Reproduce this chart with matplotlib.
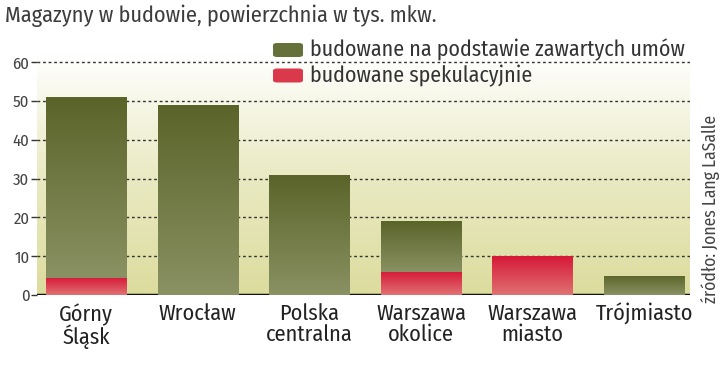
import matplotlib
matplotlib.use("Agg")
import matplotlib.pyplot as plt
import numpy as np
from matplotlib.colors import LinearSegmentedColormap
from matplotlib.patches import FancyBboxPatch
from matplotlib import font_manager

names = {f.name for f in font_manager.fontManager.ttflist}
def pick(cands):
    for c in cands:
        if c in names:
            return c
    return "DejaVu Sans"
FONT = pick(["Fira Sans Condensed", "Roboto Condensed", "Archivo Narrow", "Asap Condensed"])
LIGHT = pick(["Fira Sans Condensed", "Roboto Condensed", "Asap Condensed", "Archivo Narrow"])
plt.rcParams['font.family'] = [FONT, 'DejaVu Sans']

categories = ["Górny\nŚląsk", "Wrocław", "Polska\ncentralna", "Warszawa\nokolice", "Warszawa\nmiasto", "Trójmiasto"]
speculative = [4.5, 0, 0, 6, 10, 0]
contracted = [46.5, 49, 31, 13, 0, 5]
yticks = [0, 10, 20, 30, 40, 50, 60]
title = "Magazyny w budowie, powierzchnia w tys. mkw."
legend_labels = ["budowane na podstawie zawartych umów", "budowane spekulacyjnie"]
source = "źródło: Jones Lang LaSalle"

fig = plt.figure(figsize=(7.2, 3.66), dpi=100)
ax = fig.add_axes([37/720, 1-295/366, 653/720, 240.6/366])
ax.set_xlim(-0.44, 5.41)
ax.set_ylim(0, 62)

bg = LinearSegmentedColormap.from_list("bg", ["#dcdc9e", "#eaeac4", "#ffffff"])
grad = np.linspace(0, 1, 256).reshape(-1, 1)
ax.imshow(grad, cmap=bg, origin="lower", aspect="auto",
          extent=[-0.44, 5.41, 0, 62], zorder=0)

green_cm = LinearSegmentedColormap.from_list("g", ["#8a9163", "#5a6429"])
red_cm = LinearSegmentedColormap.from_list("r", ["#e07272", "#d61838"])

x = np.arange(len(categories))
w = 0.72

def grad_bars(bottoms, heights, cmap):
    bars = ax.bar(x, heights, w, bottom=bottoms, color="none", edgecolor="none", zorder=3)
    for b in bars:
        h = b.get_height()
        if h <= 0:
            continue
        x0, y0 = b.get_x(), b.get_y()
        im = ax.imshow(grad, cmap=cmap, origin="lower", aspect="auto",
                       extent=[x0, x0 + b.get_width(), y0, y0 + h], zorder=3)
        im.set_clip_path(b)
    return bars

grad_bars(np.zeros(len(x)), speculative, red_cm)
grad_bars(np.array(speculative), contracted, green_cm)

ax.set_xlim(-0.44, 5.41)
ax.set_ylim(0, 62)

for yv in yticks[1:]:
    ax.axhline(yv, color="#333333", lw=1.0, ls=(0, (2, 2)), zorder=2)
ax.axhline(0, color="#111111", lw=2.5, zorder=2)

ax.set_yticks(yticks)
ax.set_yticklabels([str(v) for v in yticks], fontsize=12, color="#444444",
                   family=[LIGHT, 'DejaVu Sans'], fontweight="normal")
ax.tick_params(axis="y", length=4, width=1, color="#333333", pad=1.5)
ax.set_xticks(x)
ax.set_xticklabels(categories, fontsize=16, color="#222222", linespacing=0.95)
ax.tick_params(axis="x", length=0, pad=6)
for s in ax.spines.values():
    s.set_visible(False)

t_title = fig.text(5/720, 1-16/366, title, fontsize=15, color="#3c3c3c", va="center", ha="left",
                   family=[LIGHT, 'DejaVu Sans'], fontweight="normal")

cols = ["#66703a", "#d9394b"]
ys = [50, 75.5]
leg_texts = []
for c, yy, lab in zip(cols, ys, legend_labels):
    fig.patches.append(FancyBboxPatch((273/720, 1-(yy+7)/366), 30/720, 14/366,
                                      boxstyle="round,pad=0,rounding_size=0.006",
                                      transform=fig.transFigure, facecolor=c, edgecolor="none"))
    leg_texts.append(fig.text(310/720, 1-yy/366, lab, fontsize=15, color="#333333", va="center",
                              ha="left", family=[LIGHT, 'DejaVu Sans'], fontweight="normal"))

t_src = fig.text(710/720, 1-209/366, source, fontsize=11, color="#444444", rotation=90,
                 va="center", ha="center", family=[LIGHT, 'DejaVu Sans'], fontweight="normal")

# fit text sizes to the measured widths of the reference
fig.canvas.draw()
r = fig.canvas.get_renderer()
def fit(t, target, horiz=True):
    bb = t.get_window_extent(r)
    cur = bb.width if horiz else bb.height
    t.set_fontsize(t.get_fontsize() * target / cur)
fit(t_title, 431)
fit(leg_texts[0], 375)
leg_texts[1].set_fontsize(leg_texts[0].get_fontsize())
fit(t_src, 188, horiz=False)
lbls = ax.get_xticklabels()
bw = lbls[1].get_window_extent(r).width
bt = lbls[5].get_window_extent(r).width
s = 16 * (80 / bw + 95 / bt) / 2
for l in lbls:
    l.set_fontsize(s)

fig.savefig("out.png", dpi=100)
